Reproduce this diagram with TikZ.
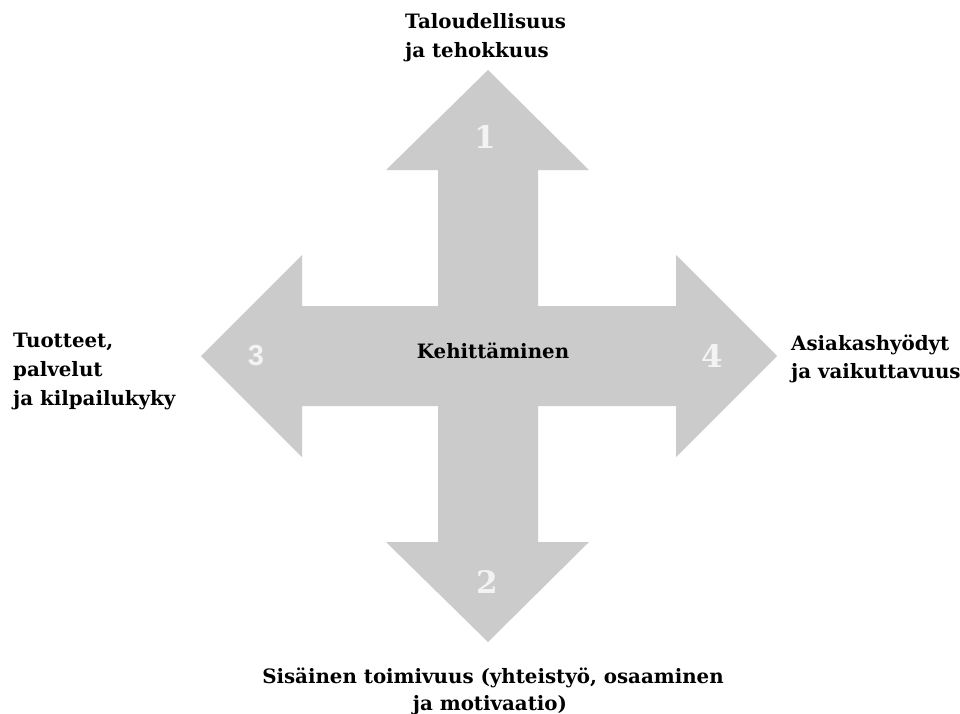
\documentclass[tikz,border=0pt]{standalone}
\usepackage{fontspec}
\setmainfont{DejaVu Serif}
\setsansfont{Liberation Sans}
\begin{document}
\definecolor{crossgray}{RGB}{203,203,203}
\definecolor{numwhite}{RGB}{243,243,243}
\begin{tikzpicture}[x=1pt,y=-1pt,
  label/.style={inner sep=0pt,font=\fontsize{19.8}{19.8}\selectfont\bfseries,text=black},
  num/.style={inner sep=0pt,font=\fontsize{31}{31}\selectfont\bfseries,text=numwhite}]
\useasboundingbox (0,0) rectangle (960,713);
\fill[white] (0,0) rectangle (960,713);
% four-way arrow cross
\coordinate (c) at (488,356);
\fill[crossgray]
  (488,70) -- (589,170) -- (538,170) -- (538,306) -- (676,306) -- (676,255)
  -- (777,356) -- (676,457) -- (676,406) -- (538,406) -- (538,542) -- (589,542)
  -- (488,642) -- (386,542) -- (438,542) -- (438,406) -- (302,406) -- (302,457)
  -- (201,356) -- (302,255) -- (302,306) -- (438,306) -- (438,170) -- (386,170)
  -- cycle;
% numbers on the arrow heads
\node[num] (n1) at (485,137) {1};
\node[num] (n2) at (487,582) {2};
\node[num,font=\fontsize{29}{29}\selectfont\sffamily\bfseries] (n3) at (256,356) {3};
\node[num] (n4) at (712,356) {4};
% centre label
\node[label,anchor=base] (center) at (493,358) {Kehittäminen};
% top label
\node[label,anchor=base west] (top1) at (405,28) {Taloudellisuus};
\node[label,anchor=base west] (top2) at (405,57) {ja tehokkuus};
% left label
\node[label,anchor=base west] (left1) at (13,347) {Tuotteet,};
\node[label,anchor=base west] (left2) at (13,376) {palvelut};
\node[label,anchor=base west] (left3) at (13,405) {ja kilpailukyky};
% right label
\node[label,anchor=base west] (right1) at (791,350) {Asiakashyödyt};
\node[label,anchor=base west] (right2) at (791,378) {ja vaikuttavuus};
% bottom label
\node[label,anchor=base] (bottom1) at (493,683) {Sisäinen toimivuus (yhteistyö, osaaminen};
\node[label,anchor=base] (bottom2) at (490,710) {ja motivaatio)};
\end{tikzpicture}
\end{document}
